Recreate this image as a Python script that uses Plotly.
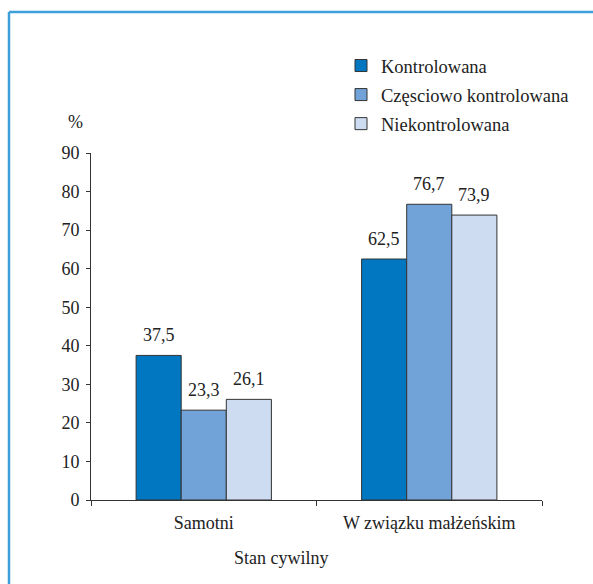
import plotly.graph_objects as go

categories = ["Samotni", "W związku małżeńskim"]
series_names = ["Kontrolowana", "Częsciowo kontrolowana", "Niekontrolowana"]
kontrolowana = [37.5, 62.5]
czesciowo = [23.3, 76.7]
niekontrolowana = [26.1, 73.9]
y_ticks = [0, 10, 20, 30, 40, 50, 60, 70, 80, 90]

colors = ["#0077c0", "#72a3d8", "#cddcf0"]
values = [kontrolowana, czesciowo, niekontrolowana]

W, H = 593, 584
ml, mr, mt, mb = 91, 51, 153, 84
pw, ph = W - ml - mr, H - mt - mb

FONT = "Liberation Serif"
TXT = "#222222"
BARGAP = 0.4

fig = go.Figure()
for i, (name, vals, col) in enumerate(zip(series_names, values, colors)):
    fig.add_trace(go.Bar(
        x=categories, y=vals, name=name, legendgroup=name,
        marker=dict(color=col, line=dict(color="#333333", width=1)),
    ))

def px_x(x):
    return (x - ml) / pw

def px_y(y):
    return (H - mb - y) / ph

# value labels above each bar, placed in data coordinates
n = len(series_names)
bw = (1 - BARGAP) / n
annotations = []
for k, vals in enumerate(values):
    for j, v in enumerate(vals):
        annotations.append(dict(
            x=j + (k - (n - 1) / 2) * bw, y=v, xref="x", yref="y",
            text=f"{v:.1f}".replace(".", ","), showarrow=False,
            yanchor="bottom", yshift=8,
            font=dict(family=FONT, size=18, color=TXT),
        ))
annotations.append(dict(
    text="%", xref="paper", yref="paper", x=px_x(75), y=px_y(122),
    xanchor="center", yanchor="middle",
    showarrow=False, font=dict(family=FONT, size=18, color=TXT),
))
annotations.append(dict(
    text="Stan cywilny", xref="paper", yref="paper", x=px_x(281), y=px_y(558),
    xanchor="center", yanchor="middle",
    showarrow=False, font=dict(family=FONT, size=18, color=TXT),
))

fig.update_layout(
    width=W, height=H,
    margin=dict(l=ml, r=mr, t=mt, b=mb),
    paper_bgcolor="white", plot_bgcolor="white",
    barmode="group", bargap=BARGAP, bargroupgap=0,
    font=dict(family=FONT, size=18, color=TXT),
    showlegend=True,
    legend=dict(
        x=px_x(341), y=px_y(47), xanchor="left", yanchor="top",
        font=dict(family=FONT, size=18.5, color=TXT),
        bgcolor="rgba(0,0,0,0)", traceorder="grouped", tracegroupgap=2,
        itemwidth=30,
    ),
    xaxis=dict(
        range=[-0.5, 1.5], showline=True, linecolor="#333333", linewidth=1,
        ticks="outside", tickson="boundaries", ticklen=5, tickcolor="#333333",
        tickfont=dict(family=FONT, size=18, color=TXT), ticklabelstandoff=6,
    ),
    yaxis=dict(
        range=[0, 90], tickvals=y_ticks, showline=True, linecolor="#333333",
        linewidth=1, ticks="outside", ticklen=4, tickcolor="#333333",
        showgrid=False, zeroline=False, ticklabelstandoff=3,
        tickfont=dict(family=FONT, size=18, color=TXT),
    ),
    annotations=annotations,
    shapes=[
        dict(type="line", xref="paper", yref="paper",
             x0=px_x(9), x1=px_x(W + 5), y0=px_y(12), y1=px_y(12),
             line=dict(color="#3da0da", width=2.5)),
        dict(type="line", xref="paper", yref="paper",
             x0=px_x(9), x1=px_x(9), y0=px_y(12), y1=px_y(H + 5),
             line=dict(color="#3da0da", width=2.5)),
    ],
)

fig.write_html("out.html")
